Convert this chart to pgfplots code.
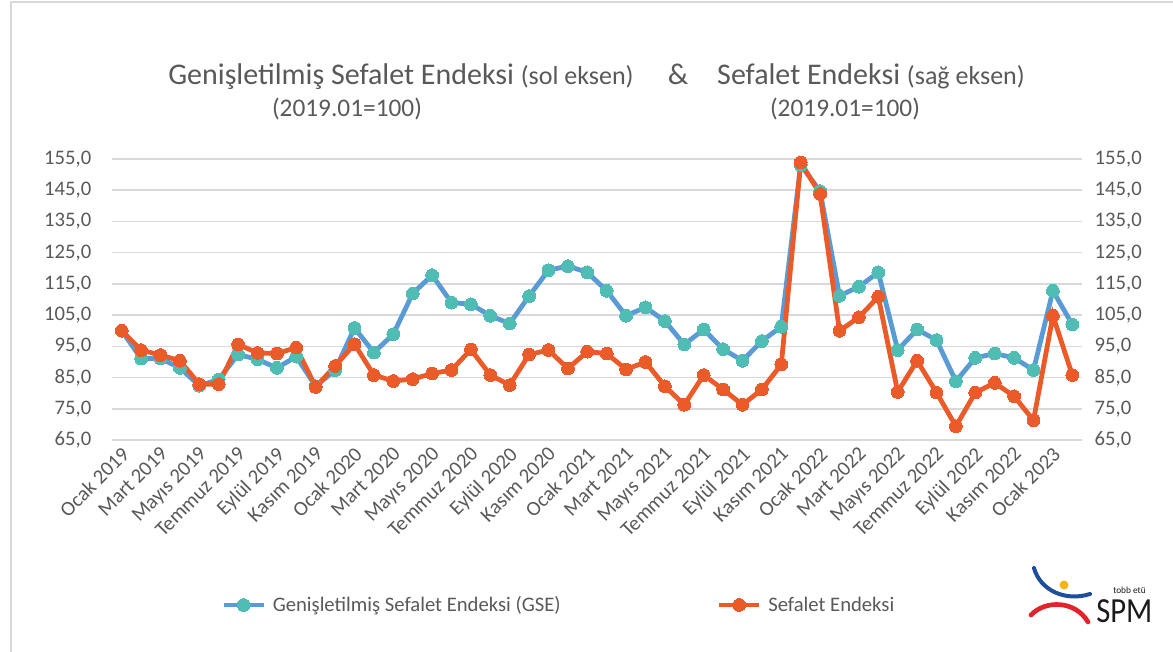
\documentclass[border=0pt]{standalone}
\usepackage{pgfplots}
\pgfplotsset{compat=1.18}
\usepackage{fontspec}
\setmainfont{Carlito}
\definecolor{gseline}{HTML}{5B9BD5}
\definecolor{gsemark}{HTML}{4FBDB3}
\definecolor{seorange}{HTML}{EB5B2A}
\definecolor{txt}{HTML}{595959}
\definecolor{gridc}{HTML}{D9D9D9}
\definecolor{logoblue}{HTML}{1F4E9A}
\definecolor{logored}{HTML}{E3232C}
\definecolor{logoyel}{HTML}{F7B418}
\definecolor{logotxt}{HTML}{1A1A1A}

\pgfplotstableread{
i gse se
0 100.0 100.0
1 91.1 93.8
2 91.1 92.2
3 88.1 90.4
4 82.4 82.9
5 84.4 82.9
6 92.4 95.6
7 90.8 92.9
8 88.1 92.7
9 91.7 94.6
10 82.2 82.0
11 87.4 88.7
12 100.9 95.7
13 93.0 85.8
14 98.9 83.9
15 111.9 84.5
16 117.8 86.3
17 109.0 87.4
18 108.5 94.0
19 104.8 85.8
20 102.3 82.6
21 111.1 92.4
22 119.4 93.8
23 120.7 87.9
24 118.7 93.3
25 112.8 92.7
26 104.8 87.6
27 107.5 90.0
28 103.1 82.2
29 95.6 76.3
30 100.4 85.8
31 94.1 81.2
32 90.4 76.3
33 96.7 81.2
34 101.3 89.2
35 153.1 153.9
36 144.7 143.8
37 111.2 100.0
38 114.1 104.3
39 118.7 110.9
40 93.8 80.4
41 100.4 90.4
42 97.0 80.2
43 83.8 69.4
44 91.3 80.2
45 92.7 83.3
46 91.3 79.0
47 87.4 71.3
48 112.8 104.8
49 102.0 85.8
}\datatable

\begin{document}
\begin{tikzpicture}
\useasboundingbox (0,0) rectangle (879.75pt,488.25pt);
\begin{scope}[shift={(0pt,488.25pt)},x=0.75pt,y=-0.75pt]
\draw[gridc, line width=1.2pt] (11,660) -- (11,2) -- (1180,2);
% title
\node[anchor=base west, inner sep=0pt, text=txt, font=\fontsize{22.5}{24}\selectfont] at (168,85)
  {Genişletilmiş Sefalet Endeksi {\fontsize{19.5}{20}\selectfont(sol eksen)}};
\node[anchor=base, inner sep=0pt, text=txt, font=\fontsize{22.5}{24}\selectfont] at (678,85) {\&};
\node[anchor=base east, inner sep=0pt, text=txt, font=\fontsize{22.5}{24}\selectfont] at (1025,85)
  {Sefalet Endeksi {\fontsize{19.5}{20}\selectfont(sağ eksen)}};
\node[anchor=base, inner sep=0pt, text=txt, font=\fontsize{19}{20}\selectfont] at (347,117) {(2019.01=100)};
\node[anchor=base, inner sep=0pt, text=txt, font=\fontsize{19}{20}\selectfont] at (845,117) {(2019.01=100)};
% logo
\draw[logoblue, line width=3pt, line cap=round] (1034,568) .. controls (1040,590) and (1065,602) .. (1090,594);
\fill[logoyel] (1064,585) circle (4.5);
\draw[logored, line width=3.5pt, line cap=round] (1031,615) .. controls (1045,600) and (1075,600) .. (1088,622);
\node[anchor=base west, inner sep=0pt, text=logotxt, font=\fontsize{7}{7}\selectfont] at (1113,593) {tobb etü};
\node[anchor=base west, inner sep=0pt, text=logotxt, font=\fontsize{23}{23}\selectfont, yscale=1.15] at (1096,622) {SPM};
\end{scope}

\begin{axis}[
  at={(84pt,158.25pt)}, anchor=south west,
  scale only axis, width=727.5pt, height=210.75pt,
  xmin=-0.5, xmax=49.5, ymin=65, ymax=155,
  ytick={65,75,85,95,105,115,125,135,145,155},
  xtick={0,2,...,48},
  xticklabels={Ocak 2019,Mart 2019,Mayıs 2019,Temmuz 2019,Eylül 2019,Kasım 2019,Ocak 2020,Mart 2020,Mayıs 2020,Temmuz 2020,Eylül 2020,Kasım 2020,Ocak 2021,Mart 2021,Mayıs 2021,Temmuz 2021,Eylül 2021,Kasım 2021,Ocak 2022,Mart 2022,Mayıs 2022,Temmuz 2022,Eylül 2022,Kasım 2022,Ocak 2023},
  x tick label style={rotate=45, anchor=north east, font=\fontsize{15.5}{16}\selectfont, text=txt, inner sep=2pt, xshift=-1.5pt},
  y tick label style={font=\fontsize{15.5}{16}\selectfont, text=txt, xshift=-12pt},
  /pgf/number format/assume math mode=true,
  yticklabel style={/pgf/number format/.cd, fixed, fixed zerofill, precision=1, use comma},
  ymajorgrids, grid style={gridc, line width=1.1pt},
  axis line style={draw=none},
  major tick length=0pt, tick style={draw=none},
  clip=false,
  legend columns=2,
  legend style={draw=none, fill=none, at={(0.1124,-0.587)}, anchor=west, inner sep=0pt,
    font=\fontsize{15.5}{16}\selectfont, text=txt,
    /tikz/column 2/.style={column sep=112pt},
    /tikz/nodes={inner xsep=5pt}},
  legend image code/.code={\draw[mark repeat=2,mark phase=2] plot coordinates {(0pt,0pt) (15pt,0pt) (30pt,0pt)};},
]
\addplot[gseline, line width=3.6pt, mark=*, mark size=4.8pt, mark options={fill=gsemark, draw=gsemark, line width=0pt}] table[x=i, y=gse] {\datatable};
\addlegendentry{Genişletilmiş Sefalet Endeksi (GSE)}
\addplot[seorange, line width=3.6pt, mark=*, mark size=4.8pt, mark options={fill=seorange, draw=seorange, line width=0pt}] table[x=i, y=se] {\datatable};
\addlegendentry{Sefalet Endeksi}
\end{axis}

\begin{axis}[
  at={(84pt,158.25pt)}, anchor=south west,
  scale only axis, width=727.5pt, height=210.75pt,
  xmin=-0.5, xmax=49.5, ymin=65, ymax=155,
  axis x line=none, axis y line*=right,
  ytick={65,75,85,95,105,115,125,135,145,155},
  y tick label style={font=\fontsize{15.5}{16}\selectfont, text=txt, xshift=6pt},
  /pgf/number format/assume math mode=true,
  yticklabel style={/pgf/number format/.cd, fixed, fixed zerofill, precision=1, use comma},
  axis line style={draw=none},
  major tick length=0pt, tick style={draw=none},
]
\addplot[draw=none, forget plot] coordinates {(0,100)};
\end{axis}
\end{tikzpicture}
\end{document}
